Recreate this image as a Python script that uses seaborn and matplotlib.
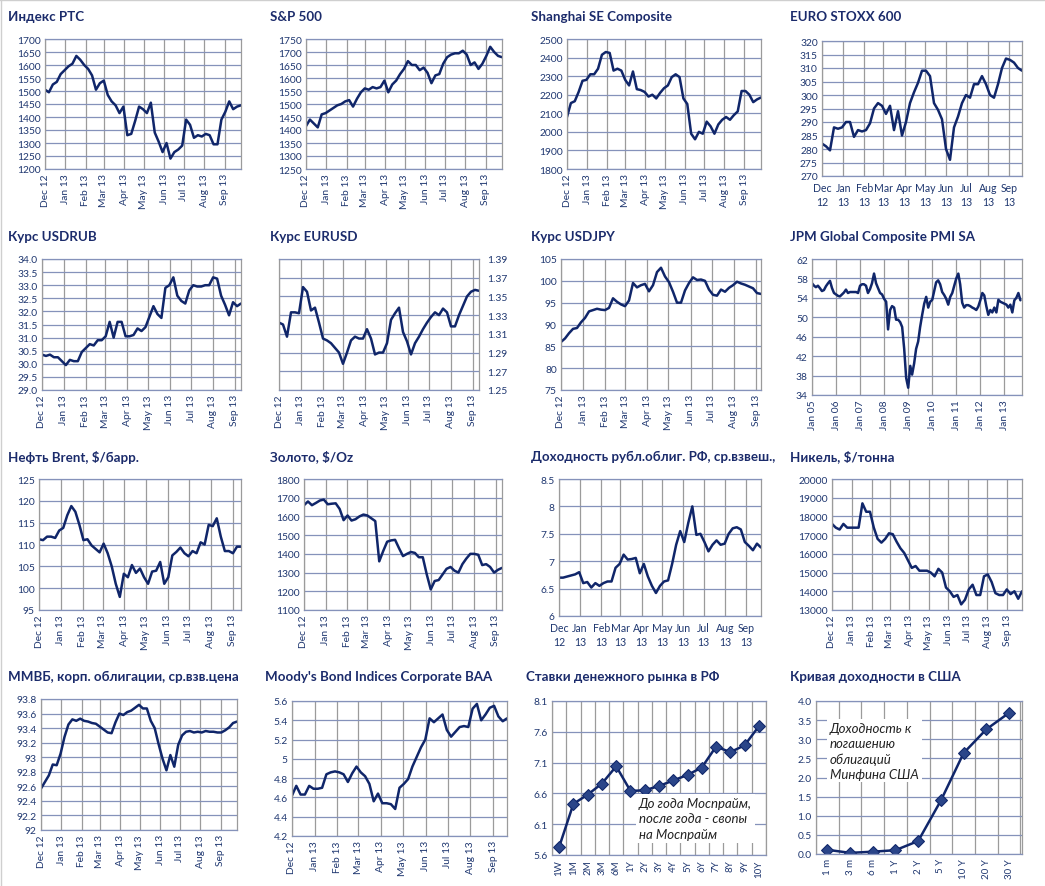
import numpy as np
import pandas as pd
import seaborn as sns
import matplotlib.pyplot as plt
import matplotlib.dates as mdates
from matplotlib.lines import Line2D
from matplotlib.ticker import FuncFormatter, FixedLocator
from matplotlib.transforms import Bbox, TransformedBbox

# размер картинки в пикселях
W, H = 1045, 887

# ---- данные (~каждые 6 дней) ----
rts = [1505, 1495, 1525, 1535, 1565, 1580, 1595, 1605, 1635, 1620, 1600, 1585, 1560,
       1505, 1530, 1540, 1485, 1460, 1445, 1415, 1440, 1330, 1335, 1385, 1440, 1430,
       1415, 1455, 1340, 1305, 1265, 1300, 1240, 1265, 1275, 1290, 1390, 1370, 1320,
       1330, 1325, 1335, 1330, 1295, 1295, 1390, 1420, 1460, 1430, 1440, 1445]
sp500 = [1415, 1440, 1425, 1410, 1460, 1465, 1475, 1485, 1495, 1500, 1510, 1515, 1490,
         1520, 1545, 1560, 1555, 1565, 1560, 1565, 1590, 1545, 1575, 1590, 1615, 1635,
         1665, 1650, 1650, 1630, 1640, 1620, 1580, 1610, 1615, 1655, 1680, 1690, 1695,
         1695, 1705, 1690, 1650, 1660, 1635, 1655, 1685, 1720, 1700, 1685, 1680]
shanghai = [2080, 2155, 2165, 2215, 2275, 2280, 2310, 2310, 2340, 2415, 2430, 2425, 2330,
            2340, 2330, 2280, 2250, 2325, 2230, 2225, 2215, 2190, 2200, 2180, 2210, 2235,
            2250, 2295, 2310, 2295, 2180, 2150, 1990, 1960, 2000, 1990, 2055, 2030, 1990,
            2040, 2065, 2080, 2065, 2090, 2110, 2220, 2220, 2200, 2160, 2175, 2185]
stoxx = [282, 281, 279.5, 288, 287.5, 288, 290, 290, 284.5, 287, 286.5, 287, 289.5, 295,
         297, 296, 293, 296, 287, 294, 285, 290, 297, 301, 304.5, 309, 309, 307, 297,
         294.5, 291, 280, 276, 288, 292, 297, 300, 299, 304, 304, 307, 304, 300, 299,
         304, 310, 313.5, 313, 312, 310, 309]
usdrub = [30.35, 30.3, 30.35, 30.25, 30.25, 30.1, 29.95, 30.15, 30.1, 30.1, 30.45, 30.6,
          30.75, 30.7, 30.9, 30.9, 31.05, 31.6, 31.0, 31.6, 31.6, 31.05, 31.05, 31.1,
          31.35, 31.25, 31.4, 31.8, 32.2, 31.9, 31.75, 32.9, 33.0, 33.3, 32.6, 32.4, 32.3,
          32.8, 33.0, 32.95, 32.95, 33.0, 33.0, 33.3, 33.25, 32.6, 32.25, 31.85, 32.35,
          32.2, 32.3]
eurusd = [1.322, 1.320, 1.307, 1.333, 1.333, 1.332, 1.360, 1.355, 1.335, 1.338, 1.322,
          1.305, 1.303, 1.300, 1.295, 1.290, 1.278, 1.290, 1.303, 1.307, 1.305, 1.305,
          1.315, 1.305, 1.288, 1.290, 1.290, 1.300, 1.325, 1.332, 1.338, 1.312, 1.302,
          1.288, 1.300, 1.307, 1.315, 1.322, 1.328, 1.333, 1.330, 1.337, 1.333, 1.318,
          1.318, 1.330, 1.340, 1.350, 1.355, 1.357, 1.356]
usdjpy = [86.0, 86.8, 88.0, 89.0, 89.2, 90.5, 91.5, 93.0, 93.3, 93.6, 93.4, 93.3, 93.8,
          96.0, 95.2, 94.6, 94.2, 95.5, 99.5, 98.5, 99.0, 99.3, 97.6, 99.0, 102.0, 103.0,
          101.0, 99.7, 97.5, 95.0, 95.0, 97.8, 99.5, 100.8, 100.2, 100.3, 100.0, 98.0,
          96.8, 96.6, 98.0, 97.5, 98.4, 99.0, 99.8, 99.4, 99.1, 98.7, 98.3, 97.2, 97.0]
# PMI помесячно янв.2005 - сен.2013
pmi = [57.0, 56.5, 56.2, 56.5, 56.0, 55.4, 55.6, 56.4, 57.0, 57.5, 56.0, 55.0,
       54.7, 54.4, 54.3, 54.7, 55.1, 55.7, 55.0, 55.2, 55.2, 55.2, 55.2, 55.0,
       56.5, 56.8, 56.8, 56.5, 55.0, 55.8, 57.0, 59.0, 57.0, 56.0, 55.0, 54.7,
       53.8, 53.2, 47.5, 51.5, 52.3, 52.0, 49.5, 49.5, 49.0, 48.0, 43.5, 37.5,
       35.5, 40.0, 38.2, 40.5, 43.5, 45.0, 48.0, 50.5, 52.8, 54.2, 52.0, 53.2,
       53.6, 55.5, 57.2, 57.6, 56.8, 55.2, 54.6, 53.8, 52.6, 54.2, 55.0, 56.5,
       58.0, 59.0, 56.8, 53.0, 52.0, 52.5, 52.5, 52.3, 52.0, 51.8, 51.5, 52.2,
       53.5, 55.0, 54.5, 52.3, 50.5, 51.5, 51.0, 52.0, 51.0, 53.6, 53.2, 53.0,
       52.8, 52.6, 52.0, 52.6, 51.0, 53.5, 54.0, 55.0, 53.5]
brent = [111.2, 111.0, 111.8, 111.8, 111.5, 113.2, 113.8, 116.7, 118.8, 117.5, 114.5,
         111.0, 111.2, 109.8, 109.0, 108.2, 110.2, 108.0, 105.0, 101.0, 98.0, 103.3,
         102.5, 105.3, 103.5, 104.5, 102.5, 101.0, 103.8, 104.0, 106.0, 101.0, 102.5,
         107.5, 108.3, 109.3, 108.0, 107.3, 108.5, 108.0, 110.5, 110.0, 114.5, 114.2,
         116.0, 111.8, 108.5, 108.5, 108.0, 109.5, 109.5]
gold = [1660, 1680, 1660, 1672, 1685, 1690, 1665, 1668, 1670, 1640, 1580, 1605, 1578,
        1585, 1600, 1610, 1605, 1590, 1575, 1360, 1415, 1465, 1472, 1475, 1430, 1388,
        1400, 1410, 1405, 1382, 1382, 1290, 1210, 1255, 1260, 1290, 1320, 1330, 1310,
        1300, 1345, 1375, 1400, 1400, 1395, 1340, 1345, 1330, 1300, 1315, 1325]
ofz_yield = [6.70, 6.70, 6.72, 6.74, 6.76, 6.80, 6.60, 6.62, 6.52, 6.60, 6.55, 6.60,
             6.63, 6.63, 6.88, 6.95, 7.12, 7.03, 7.04, 7.06, 6.78, 6.95, 6.72, 6.55,
             6.42, 6.55, 6.63, 6.65, 6.95, 7.30, 7.55, 7.35, 7.70, 8.00, 7.48, 7.50,
             7.35, 7.18, 7.30, 7.38, 7.30, 7.32, 7.50, 7.60, 7.62, 7.58, 7.35, 7.28,
             7.20, 7.32, 7.25]
nickel = [17600, 17400, 17300, 17600, 17400, 17400, 17400, 17400, 18700, 18250, 18250,
          17400, 16800, 16600, 16800, 17100, 17050, 16650, 16300, 16050, 15650, 15250,
          15350, 15100, 15100, 15100, 15000, 14800, 15200, 15000, 14200, 14000, 13700,
          13800, 13300, 13550, 14100, 14350, 13800, 13800, 14800, 14900, 14500, 13900,
          13800, 13800, 14100, 13850, 14000, 13600, 14000]
mmvb = [92.57, 92.66, 92.75, 92.90, 92.89, 93.05, 93.28, 93.45, 93.52, 93.50, 93.53,
        93.50, 93.49, 93.47, 93.46, 93.42, 93.38, 93.34, 93.33, 93.48, 93.60, 93.58,
        93.62, 93.64, 93.68, 93.72, 93.67, 93.67, 93.50, 93.40, 93.18, 92.98, 92.82,
        93.03, 92.87, 93.17, 93.30, 93.35, 93.36, 93.34, 93.35, 93.34, 93.36, 93.35,
        93.35, 93.34, 93.34, 93.37, 93.41, 93.47, 93.49]
moody = [4.62, 4.72, 4.63, 4.63, 4.72, 4.69, 4.69, 4.70, 4.84, 4.86, 4.87, 4.86, 4.84,
         4.76, 4.85, 4.92, 4.86, 4.82, 4.74, 4.56, 4.64, 4.54, 4.54, 4.53, 4.48, 4.70,
         4.74, 4.79, 4.92, 5.02, 5.12, 5.20, 5.42, 5.38, 5.42, 5.46, 5.30, 5.23, 5.28,
         5.33, 5.34, 5.33, 5.52, 5.57, 5.40, 5.46, 5.53, 5.55, 5.44, 5.39, 5.42]

mm_tenors = ['1W', '1M', '2M', '3M', '6M', '1Y', '2Y', '3Y', '4Y', '5Y', '6Y', '7Y', '8Y', '9Y', '10Y']
mm_rates = [5.73, 6.43, 6.58, 6.76, 7.04, 6.64, 6.65, 6.72, 6.81, 6.90, 7.02, 7.36, 7.27, 7.38, 7.69]
us_tenors = ['1 m', '3 m', '6 m', '1 Y', '2 Y', '5 Y', '10 Y', '20 Y', '30 Y']
us_yields = [0.11, 0.03, 0.06, 0.10, 0.34, 1.40, 2.64, 3.26, 3.69]

# ---- оформление ----
TITLE_C = '#1B2B6B'
TICK_C = '#1F3770'
LINE_C = '#10266A'
HGRID = '#8592BA'
VGRID = '#9B9B9B'

sns.set_theme(style='white')
plt.rcParams['font.family'] = ['Lato', 'Noto Sans', 'DejaVu Sans']

fig = plt.figure(figsize=(W / 100, H / 100), dpi=100)
fig.patch.set_facecolor('white')
# тонкая серая рамка сверху и слева, как на скриншоте
fig.add_artist(Line2D([0, 1], [1 - 0.5 / H, 1 - 0.5 / H], color='#CFCFCF', lw=1))
fig.add_artist(Line2D([0.5 / W, 0.5 / W], [0, 1], color='#CFCFCF', lw=1))


def make_ax(l, t, r, b):
    return fig.add_axes([l / W, 1 - b / H, (r - l) / W, (b - t) / H])


def title(x, y, txt, clip_to=None):
    t = fig.text(x / W, 1 - y / H, txt, fontsize=9.6, fontweight='bold',
                 color=TITLE_C, ha='left', va='center')
    if clip_to is not None:
        t.set_clip_box(TransformedBbox(Bbox([[0, 0], [clip_to / W, 1]]), fig.transFigure))
        t.set_clip_on(True)
    return t


def style(ax, ylo, yhi, ystep, fmt):
    ax.set_ylim(ylo, yhi)
    ax.yaxis.set_major_locator(FixedLocator(np.arange(ylo, yhi + ystep / 2, ystep)))
    ax.yaxis.set_major_formatter(FuncFormatter(fmt))
    ax.set_axisbelow(True)
    ax.grid(True, axis='y', color=HGRID, lw=0.9)
    for s in ax.spines.values():
        s.set_color(VGRID)
        s.set_linewidth(0.9)
    ax.spines['top'].set_color(HGRID)
    ax.spines['bottom'].set_color(HGRID)
    ax.tick_params(length=0, labelsize=7.4, colors=TICK_C, pad=3)
    ax.set_xlabel('')
    ax.set_ylabel('')


fmt_int = lambda v, p: f'{v:.0f}'
fmt_1 = lambda v, p: f'{v:.1f}'
fmt_2 = lambda v, p: f'{v:.2f}'
fmt_g = lambda v, p: f'{v:g}'


def ts_panel(rect, vals, end, ylo, yhi, ystep, fmt, two_line=False, right=False):
    ax = make_ax(*rect)
    start = pd.Timestamp('2012-12-01')
    end = pd.Timestamp(end)
    dates = pd.date_range(start, end, periods=len(vals))
    sns.lineplot(x=dates, y=vals, ax=ax, color=LINE_C, lw=1.8)
    ax.set_xlim(start, end)
    style(ax, ylo, yhi, ystep, fmt)
    ax.xaxis.set_major_locator(mdates.MonthLocator())
    ax.grid(True, axis='x', color=VGRID, lw=0.9)
    if two_line:
        ax.xaxis.set_major_formatter(mdates.DateFormatter('%b\n%y'))
        for lb in ax.get_xticklabels():
            lb.set_linespacing(1.35)
        ax.tick_params(axis='x', labelsize=7.6, pad=4)
    else:
        ax.xaxis.set_major_formatter(mdates.DateFormatter('%b %y'))
        plt.setp(ax.get_xticklabels(), rotation=90)
    if right:
        ax.yaxis.tick_right()
        ax.tick_params(axis='y', length=0, pad=6)
    return ax


# ряд 1
title(8, 17, 'Индекс РТС')
ts_panel((45, 40, 241, 170), rts, '2013-09-26', 1200, 1700, 50, fmt_int)
title(270, 17, 'S&P 500')
ts_panel((306, 40, 502, 170), sp500, '2013-09-26', 1250, 1750, 50, fmt_int)
title(531, 17, 'Shanghai SE Composite')
ts_panel((567, 40, 761, 170), shanghai, '2013-09-27', 1800, 2500, 100, fmt_int)
title(790, 17, 'EURO STOXX 600')
ts_panel((822, 42, 1022, 177), stoxx, '2013-09-20', 270, 320, 5, fmt_int, two_line=True)

# ряд 2
title(8, 237, 'Курс USDRUB')
ts_panel((42, 260, 241, 391), usdrub, '2013-09-10', 29.0, 34.0, 0.5, fmt_1)
title(270, 237, 'Курс EURUSD')
ts_panel((279, 260, 479, 391), eurusd, '2013-09-10', 1.25, 1.39, 0.02, fmt_2, right=True)
title(531, 237, 'Курс USDJPY')
ts_panel((561, 260, 761, 391), usdjpy, '2013-09-08', 75, 105, 5, fmt_int)
title(790, 237, 'JPM Global Composite PMI SA')
ax = make_ax(812, 260, 1022, 396)
pmi_dates = pd.date_range('2005-01-01', periods=len(pmi), freq='MS')
sns.lineplot(x=pmi_dates, y=pmi, ax=ax, color=LINE_C, lw=1.8)
ax.set_xlim(pd.Timestamp('2005-01-01'), pd.Timestamp('2013-09-25'))
style(ax, 34, 62, 4, fmt_int)
ax.xaxis.set_major_locator(mdates.YearLocator(month=1))
ax.xaxis.set_major_formatter(mdates.DateFormatter('%b %y'))
ax.grid(True, axis='x', color=VGRID, lw=0.9)
plt.setp(ax.get_xticklabels(), rotation=90)

# ряд 3
title(8, 457, 'Нефть Brent, $/барр.')
ts_panel((39, 480, 241, 611), brent, '2013-09-13', 95, 125, 5, fmt_int)
title(270, 457, 'Золото, $/Oz')
ts_panel((304, 480, 502, 611), gold, '2013-09-10', 1100, 1800, 100, fmt_int)
# заголовок в оригинале обрезан соседним
title(531, 457, 'Доходность рубл.облиг. РФ, ср.взвеш.,', clip_to=787)
ts_panel((559, 480, 761, 617), ofz_yield, '2013-09-23', 6, 8.5, 0.5, fmt_g, two_line=True)
title(790, 457, 'Никель, $/тонна')
ts_panel((832, 480, 1022, 611), nickel, '2013-09-24', 13000, 20000, 1000, fmt_int)

# ряд 4
title(8, 677, 'ММВБ, корп. облигации, ср.взв.цена')
ts_panel((41, 700, 237, 831), mmvb, '2013-09-26', 92, 93.8, 0.2, fmt_g)
title(265, 677, "Moody's Bond Indices Corporate BAA")
ts_panel((292, 702, 507, 837), moody, '2013-09-20', 4.2, 5.6, 0.2, fmt_g)


def cat_panel(rect, labels, vals, ylo, yhi, ystep, xlim, msize):
    ax = make_ax(*rect)
    x = np.arange(len(labels))
    sns.lineplot(x=x, y=vals, ax=ax, color=LINE_C, lw=1.8, marker='D',
                 markersize=msize, markeredgecolor=LINE_C, markerfacecolor='#2A4589')
    ax.set_xlim(*xlim)
    style(ax, ylo, yhi, ystep, fmt_1)
    ax.set_xticks(x)
    ax.set_xticklabels(labels, rotation=90)
    ax.set_xticks(np.arange(-0.5, len(labels)), minor=True)
    ax.tick_params(axis='x', which='both', length=0)
    ax.grid(True, axis='x', which='minor', color=VGRID, lw=0.9)
    ax.tick_params(axis='x', labelsize=7.0, pad=3)
    return ax


title(526, 677, 'Ставки денежного рынка в РФ')
cat_panel((552, 702, 766, 856), mm_tenors, mm_rates, 5.6, 8.1, 0.5, (-0.5, 14.5), 6)
fig.text(639 / W, 1 - 798 / H, 'До года Моспрайм,\nпосле года - свопы\nна Моспрайм',
         fontsize=9.5, style='italic', color='#222222', ha='left', va='top',
         linespacing=1.35, bbox=dict(facecolor='white', edgecolor='none', pad=2))

title(790, 677, 'Кривая доходности в США')
cat_panel((816, 702, 1022, 855), us_tenors, us_yields, 0.0, 4.0, 0.5, (-0.21, 8.57), 6.5)
fig.text(830 / W, 1 - 723 / H, 'Доходность к\nпогашению\nоблигаций\nМинфина США',
         fontsize=9.5, style='italic', color='#222222', ha='left', va='top',
         linespacing=1.3, bbox=dict(facecolor='white', edgecolor='none', pad=2))

fig.savefig('out.png', dpi=100, facecolor='white')
